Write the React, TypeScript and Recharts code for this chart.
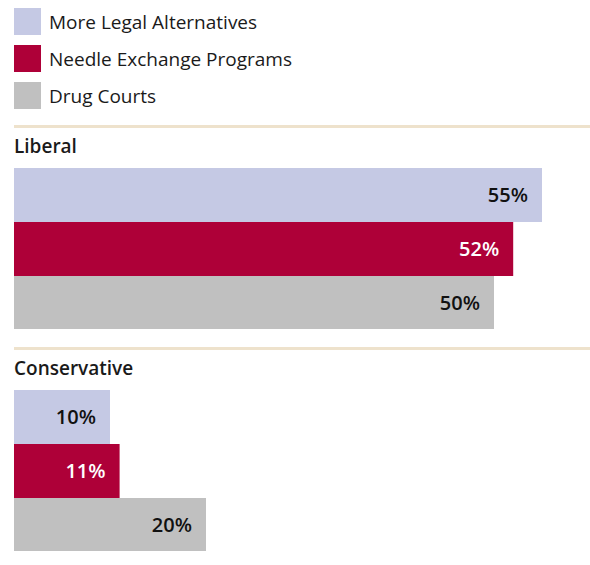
import { BarChart, Bar, XAxis, YAxis, LabelList } from 'recharts'

const groups = ['Liberal', 'Conservative']
const seriesKeys = ['legal', 'needle', 'courts']
const seriesNames = ['More Legal Alternatives', 'Needle Exchange Programs', 'Drug Courts']
const legalAlternatives = [55, 10]
const needleExchange = [52, 11]
const drugCourts = [50, 20]
const seriesColors = ['#c5c9e4', '#ae0038', '#c0c0c0']
const labelColors = ['#111111', '#ffffff', '#111111']

const FONT = '"Open Sans", "Noto Sans", sans-serif'

// one row per group, built from the series arrays
const rows = groups.map((g, i) => ({
  group: g,
  legal: legalAlternatives[i],
  needle: needleExchange[i],
  courts: drugCourts[i],
}))

// layout: where each group block sits on the page
const blocks = [
  { sepY: 125, titleY: 134, chartY: 168 },
  { sepY: 347, titleY: 356, chartY: 390 },
]

function GroupChart({ row }: { row: (typeof rows)[number] }) {
  return (
    <BarChart
      width={590}
      height={161}
      data={[row]}
      layout="vertical"
      margin={{ top: 0, right: 0, bottom: 0, left: 14 }}
      barCategoryGap={0}
      barGap={0}
    >
      <XAxis type="number" domain={[0, 60]} hide />
      <YAxis type="category" dataKey="group" hide width={0} />
      {seriesKeys.map((k, i) => (
        <Bar key={k} dataKey={k} fill={seriesColors[i]} isAnimationActive={false}>
          <LabelList
            dataKey={k}
            position="insideRight"
            offset={14}
            formatter={(v: any) => `${v}%`}
            fill={labelColors[i]}
            style={{ fontFamily: FONT, fontSize: 20, fontWeight: 600 }}
          />
        </Bar>
      ))}
    </BarChart>
  )
}

export default function App() {
  return (
    <div
      style={{
        position: 'absolute',
        left: 0,
        top: 0,
        width: 590,
        height: 565,
        background: '#fff',
        fontFamily: FONT,
        color: '#1a1a1a',
      }}
    >
      {seriesNames.map((name, i) => (
        <div
          key={name}
          style={{ position: 'absolute', left: 14, top: 8 + i * 37, height: 27, display: 'flex', alignItems: 'center' }}
        >
          <div style={{ width: 27, height: 27, background: seriesColors[i] }} />
          <span style={{ marginLeft: 8, fontSize: 19, lineHeight: '27px', marginTop: 2 }}>{name}</span>
        </div>
      ))}

      {rows.map((row, i) => (
        <div key={row.group}>
          <div
            style={{
              position: 'absolute',
              left: 14,
              top: blocks[i].sepY,
              width: 576,
              height: 3,
              background: '#eee2cc',
            }}
          />
          <div
            style={{
              position: 'absolute',
              left: 14,
              top: blocks[i].titleY,
              fontSize: 19,
              fontWeight: 600,
              lineHeight: '24px',
            }}
          >
            {row.group}
          </div>
          <div style={{ position: 'absolute', left: 0, top: blocks[i].chartY }}>
            <GroupChart row={row} />
          </div>
        </div>
      ))}
    </div>
  )
}
